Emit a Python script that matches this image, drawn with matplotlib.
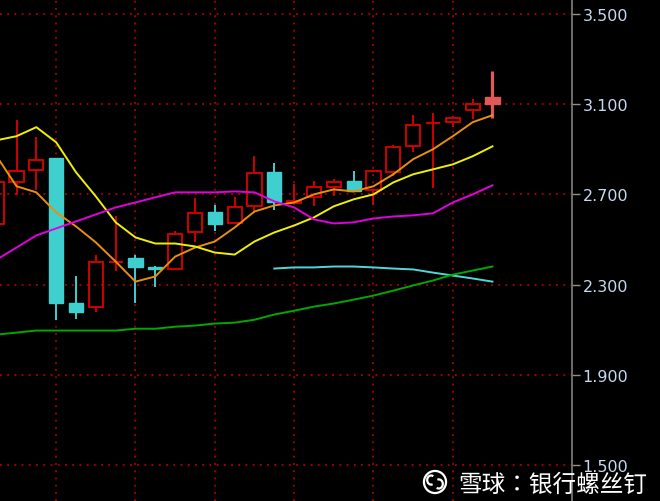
import matplotlib
matplotlib.use('Agg')
import numpy as np
from matplotlib import pyplot as plt
from matplotlib.patches import Rectangle, Circle, Arc

# daily candles (index 0 is cut by the left edge)
opens = [2.567, 2.753, 2.807, 2.860, 2.216, 2.202, 2.397, 2.416, 2.380, 2.371,
         2.531, 2.624, 2.571, 2.647, 2.798, 2.660, 2.687, 2.731, 2.758, 2.718,
         2.798, 2.913, 3.014, 3.020, 3.073, 3.100]
closes = [2.753, 2.802, 2.851, 2.216, 2.180, 2.398, 2.400, 2.376, 2.367, 2.522,
          2.616, 2.567, 2.642, 2.793, 2.664, 2.669, 2.731, 2.753, 2.713, 2.802,
          2.909, 3.007, 3.018, 3.038, 3.100, 3.131]
highs = [2.790, 3.029, 2.953, 2.860, 2.336, 2.429, 2.602, 2.429, 2.382, 2.536,
         2.682, 2.651, 2.687, 2.869, 2.838, 2.744, 2.758, 2.767, 2.802, 2.802,
         2.918, 3.051, 3.060, 3.047, 3.122, 3.247]
lows = [2.550, 2.696, 2.718, 2.144, 2.149, 2.180, 2.358, 2.216, 2.287, 2.371,
        2.487, 2.536, 2.571, 2.624, 2.629, 2.656, 2.647, 2.691, 2.709, 2.651,
        2.780, 2.887, 2.727, 2.998, 3.033, 3.038]

# moving averages
ma5 = [2.869, 2.736, 2.709, 2.620, 2.558, 2.487, 2.402, 2.313, 2.336, 2.424,
       2.464, 2.491, 2.553, 2.624, 2.651, 2.664, 2.700, 2.722, 2.713, 2.736,
       2.789, 2.856, 2.900, 2.958, 3.020, 3.051]
ma10 = [2.940, 2.958, 2.998, 2.931, 2.798, 2.691, 2.576, 2.509, 2.482, 2.482,
        2.469, 2.442, 2.433, 2.491, 2.531, 2.562, 2.598, 2.647, 2.678, 2.700,
        2.753, 2.789, 2.811, 2.833, 2.869, 2.913]
ma20 = [2.411, 2.464, 2.518, 2.549, 2.580, 2.611, 2.642, 2.664, 2.687, 2.709,
        2.709, 2.709, 2.713, 2.709, 2.669, 2.642, 2.589, 2.571, 2.576, 2.593,
        2.602, 2.607, 2.616, 2.664, 2.700, 2.740]
ma60_start = 14
ma60 = [2.371, 2.376, 2.376, 2.380, 2.380, 2.376, 2.371, 2.367, 2.353, 2.340,
        2.327, 2.313]
ma120 = [2.078, 2.087, 2.096, 2.096, 2.096, 2.096, 2.096, 2.104, 2.104, 2.113,
         2.118, 2.127, 2.131, 2.144, 2.167, 2.184, 2.202, 2.216, 2.233, 2.251,
         2.273, 2.296, 2.318, 2.344, 2.362, 2.380]

yticks = [1.5, 1.9, 2.3, 2.7, 3.1, 3.5]
watermark = '雪球：银行螺丝钉'

RED = '#d00000'
CYAN = '#3fcfcf'
GRID = '#b00000'

fig = plt.figure(figsize=(6.6, 5.02), dpi=100, facecolor='black')
ax = fig.add_axes([0, 0, 572 / 660, 1])
ax.set_facecolor('black')

w = 0.71
n = len(opens)
for i in range(n):
    o, c, h, l = opens[i], closes[i], highs[i], lows[i]
    lo, hi = min(o, c), max(o, c)
    if i == n - 1:
        ax.vlines(i, l, h, color='#e05858', lw=2.3, zorder=2)
        ax.add_patch(Rectangle((i - w / 2, lo), w, hi - lo, facecolor='#e05858',
                               edgecolor='#e05858', lw=1, zorder=3))
    elif c >= o:
        if hi - lo < 0.006:
            ax.hlines((o + c) / 2, i - w / 2, i + w / 2, color=RED, lw=1.4, zorder=3)
            ax.vlines(i, l, h, color=RED, lw=1.4, zorder=2)
        else:
            ax.vlines(i, hi, h, color=RED, lw=1.4, zorder=2)
            ax.vlines(i, l, lo, color=RED, lw=1.4, zorder=2)
            ax.add_patch(Rectangle((i - w / 2, lo), w, hi - lo, fill=False,
                                   edgecolor=RED, lw=1.4, zorder=3))
    else:
        ax.vlines(i, l, h, color=CYAN, lw=1.4, zorder=2)
        ax.add_patch(Rectangle((i - w / 2, lo), w, hi - lo, facecolor=CYAN,
                               edgecolor=CYAN, lw=1, zorder=3))

x = np.arange(n)
ax.plot(x, ma5, color='#e8900a', lw=1.4, zorder=4)
ax.plot(x, ma10, color='#f0f000', lw=1.4, zorder=4)
ax.plot(x, ma20, color='#e000e0', lw=1.4, zorder=4)
ax.plot(np.arange(ma60_start, ma60_start + len(ma60)), ma60, color='#50d8d8', lw=1.4, zorder=4)
ax.plot(x, ma120, color='#00a800', lw=1.4, zorder=4)

ax.set_xlim(0.168, 29.01)
ax.set_ylim(1.340, 3.5665)

ax.set_xticks([3, 7, 11, 15, 19, 23])
ax.tick_params(axis='x', length=0, labelbottom=False)
ax.yaxis.tick_right()
ax.set_yticks(yticks)
ax.set_yticklabels(['%.3f' % v for v in yticks])
ax.tick_params(axis='y', colors='#909090', length=6, width=1, pad=1.5,
               labelsize=11.5, labelcolor='#c8d8f0')
ax.grid(True, color=GRID, linestyle=(0, (1, 3)), lw=1.3, zorder=1)
for s in ['left', 'top', 'bottom']:
    ax.spines[s].set_visible(False)
ax.spines['right'].set_color('#808080')
ax.spines['right'].set_linewidth(1.2)

# watermark
fig.text(458 / 660, 1 - 485 / 502, watermark, color='white', fontsize=17,
         family=['Noto Sans CJK TC', 'DejaVu Sans'], va='center', ha='left', zorder=10)
lax = fig.add_axes([(435 - 13) / 660, 1 - (483 + 13) / 502, 26 / 660, 26 / 502])
lax.set_xlim(-1, 1)
lax.set_ylim(-1, 1)
lax.axis('off')
lax.add_patch(Circle((0, 0), 0.85, fill=False, edgecolor='white', lw=1.6))
lax.add_patch(Arc((-0.3, 0.15), 0.6, 0.7, theta1=60, theta2=290, color='white', lw=1.6))
lax.add_patch(Arc((0.3, -0.15), 0.6, 0.7, theta1=240, theta2=110, color='white', lw=1.6))

fig.savefig('out.png', dpi=100, facecolor='black')
